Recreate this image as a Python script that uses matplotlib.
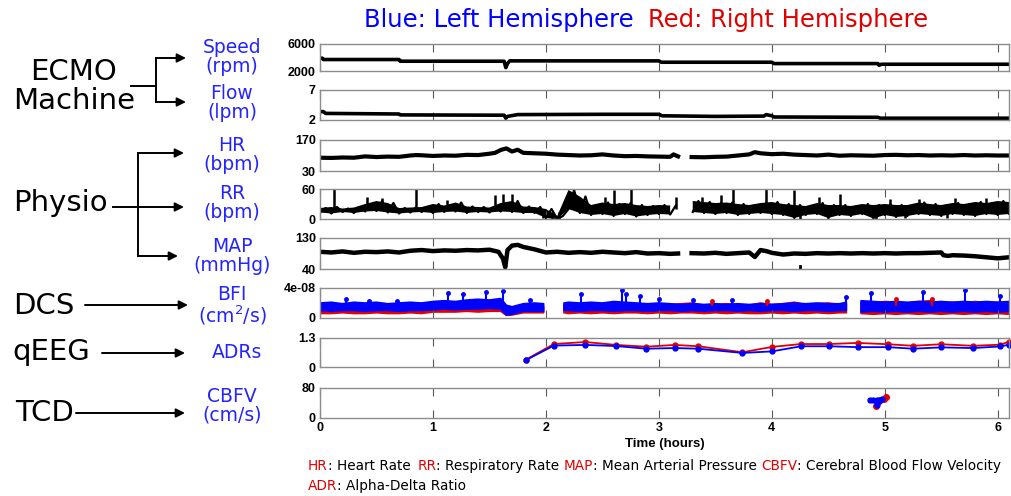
import numpy as np
import matplotlib
matplotlib.use('Agg')
import matplotlib.pyplot as plt

nan = np.nan
BLUE = '#0000ff'
RED = '#e00000'
LBLUE = '#2424ff'
TICKFONT = ['Liberation Sans', 'DejaVu Sans']

# ---------------- data ----------------
# ECMO pump speed (rpm), step-like
speed_t = [0, 0.02, 0.03, 0.70, 0.71, 1.63, 1.645, 1.66, 1.68, 3.0, 3.02, 4.0, 4.02, 4.94, 4.95, 4.97, 6.1]
speed_v = [3900, 3900, 3700, 3700, 3450, 3450, 2500, 3100, 3500, 3500, 3300, 3300, 3100, 3100, 2850, 3000, 3000]

# ECMO flow (lpm)
flow_t = [0, 0.03, 0.05, 0.70, 0.71, 1.63, 1.645, 1.66, 1.75, 2.5, 3.0, 3.03, 3.5, 3.93, 3.95, 4.0, 4.02, 4.94, 4.96, 6.1]
flow_v = [3.4, 3.4, 3.1, 3.0, 2.85, 2.8, 2.3, 2.6, 2.9, 2.95, 2.95, 2.7, 2.6, 2.65, 2.9, 2.7, 2.5, 2.45, 2.3, 2.3]

# heart rate (bpm)
hr_t = [0, 0.1, 0.2, 0.3, 0.4, 0.5, 0.6, 0.7, 0.8, 0.85, 0.9, 1.0, 1.1, 1.2, 1.3, 1.4, 1.5, 1.55,
        1.6, 1.65, 1.7, 1.75, 1.8, 1.9, 2.0, 2.1, 2.2, 2.3, 2.4, 2.5, 2.6, 2.7, 2.8, 2.9, 3.0, 3.1,
        3.13, 3.17, 3.23, 3.29, 3.4, 3.5, 3.6, 3.7, 3.8, 3.85, 3.9, 4.0, 4.1, 4.2, 4.3, 4.4, 4.5,
        4.6, 4.7, 4.8, 4.9, 5.0, 5.1, 5.2, 5.3, 5.4, 5.5, 5.6, 5.7, 5.8, 5.9, 6.0, 6.1]
hr_v = [90, 89, 91, 90, 96, 93, 95, 94, 100, 102, 101, 98, 100, 99, 103, 102, 108, 112,
        125, 132, 118, 126, 112, 110, 108, 104, 102, 100, 101, 105, 100, 97, 98, 96, 95, 94,
        105, 96, nan, 93, 92, 94, 95, 100, 105, 115, 110, 106, 108, 104, 102, 100, 104,
        99, 101, 100, 99, 102, 103, 101, 102, 100, 101, 100, 102, 100, 101, 100, 100]

# respiratory rate (bpm): low / high swing of the noisy trace every 0.1 h
rr_step = 0.1
rr_lo = [13, 11, 14, 12, 15, 16, 13, 11, 13, 14,
         12, 14, 15, 12, 14, 13, 15, 14, 12, 12,
         2, 0, 20, 12, 8, 10, 6, 10, 5, 8,
         10, 9, nan, 14, 12, 10, 12, 8, 10, 12,
         10, 8, 2, 8, 10, 2, 8, 6, 10, 1,
         8, 4, 6, 10, 8, 6, 10, 8, 6, 10,
         8, 10]
rr_hi = [22, 24, 21, 23, 30, 36, 32, 22, 23, 24,
         30, 27, 33, 25, 24, 23, 32, 36, 25, 24,
         20, 6, 58, 45, 28, 33, 30, 32, 28, 26,
         28, 27, nan, 36, 34, 32, 33, 30, 28, 32,
         34, 30, 28, 26, 32, 28, 28, 26, 30, 28,
         30, 28, 28, 33, 30, 28, 32, 30, 34, 32,
         36, 34]
rr_spk_t = [0.12, 0.42, 0.55, 0.85, 1.12, 1.55, 1.62, 1.70, 2.52, 2.6, 2.75, 3.15, 3.38, 3.55,
            3.66, 3.95, 4.2, 4.42, 4.6, 5.05, 5.3, 5.62, 5.9]
rr_spk_v = [60, 45, 42, 60, 38, 48, 50, 50, 45, 58, 60, 45, 45, 48,
            60, 60, 58, 45, 50, 40, 40, 42, 42]
rr_dip_t = [1.97, 2.05, 2.12, 4.25, 4.5, 4.92, 5.18, 5.55]
rr_dip_v = [2, 0, 1, 0, 2, 0, 3, 2]

# mean arterial pressure (mmHg)
map_t = [0, 0.1, 0.2, 0.3, 0.4, 0.5, 0.6, 0.7, 0.8, 0.9, 1.0, 1.1, 1.2, 1.3, 1.4, 1.5, 1.58,
         1.62, 1.64, 1.66, 1.7, 1.75, 1.8, 1.9, 2.0, 2.1, 2.2, 2.3, 2.4, 2.5, 2.6, 2.7, 2.8, 2.9,
         3.0, 3.1, 3.17, 3.23, 3.29, 3.4, 3.5, 3.6, 3.7, 3.8, 3.85, 3.9, 3.95, 4.0, 4.1, 4.2,
         4.3, 4.4, 4.5, 4.6, 4.7, 4.8, 4.9, 5.0, 5.1, 5.2, 5.3, 5.4, 5.5, 5.52, 5.56, 5.6, 5.7,
         5.8, 5.9, 6.0, 6.1]
map_v = [90, 88, 91, 87, 90, 89, 91, 88, 93, 95, 92, 94, 93, 95, 94, 96, 90,
         70, 45, 95, 108, 110, 104, 97, 88, 90, 87, 89, 87, 90, 88, 86, 89, 85,
         86, 84, 85, nan, 86, 85, 87, 84, 86, 88, 75, 95, 92, 87, 82, 85,
         84, 86, 85, 86, 85, 86, 85, 86, 85, 86, 86, 87, 88, 80, 78, 80, 79,
         77, 74, 71, 74]
map_out_t = [4.25, 4.25]
map_out_v = [44, 50]

# cerebral blood flow index (x1e-8 cm^2/s), envelopes of the noisy band
bfi_t = [0.0, 0.1, 0.2, 0.3, 0.4, 0.5, 0.6, 0.7, 0.8, 0.9, 1.0, 1.1, 1.2, 1.3, 1.4, 1.5, 1.6,
         1.65, 1.7, 1.8, 1.9, 1.98,
         2.07,
         2.16, 2.2, 2.3, 2.4, 2.5, 2.6, 2.7, 2.8, 2.9, 3.0, 3.1, 3.2, 3.3, 3.4, 3.5, 3.6, 3.7,
         3.8, 3.9, 4.0, 4.1, 4.2, 4.3, 4.4, 4.5, 4.6, 4.66,
         4.72,
         4.79, 4.9, 5.0, 5.1, 5.2, 5.3, 5.4, 5.5, 5.6, 5.7, 5.8, 5.9, 6.0, 6.1]
bfi_left_hi = [2.0, 2.1, 1.9, 2.1, 2.0, 2.1, 1.9, 2.0, 2.1, 2.0, 2.2, 2.3, 2.2, 2.4, 2.5, 2.4, 2.6,
               1.7, 1.5, 1.9, 2.0, 1.9,
               nan,
               2.0, 2.1, 2.0, 2.1, 2.0, 2.2, 2.1, 2.0, 1.9, 2.0, 1.9, 1.8, 1.9, 1.8, 1.9, 1.8, 1.9,
               1.8, 1.9, 1.8, 1.9, 2.0, 1.9, 2.0, 1.9, 1.9, 2.1,
               nan,
               2.3, 2.2, 2.1, 2.2, 2.1, 2.2, 2.1, 2.2, 2.1, 2.2, 2.1, 2.2, 2.1, 2.2]
bfi_left_lo = [1.0, 0.9, 1.0, 1.0, 0.9, 1.0, 1.0, 0.9, 1.0, 1.0, 1.1, 1.2, 1.1, 1.2, 1.2, 1.3, 1.2,
               0.4, 0.5, 0.9, 0.9, 0.9,
               nan,
               1.0, 1.0, 0.9, 1.0, 1.0, 0.9, 1.0, 1.0, 0.9, 1.0, 1.0, 0.9, 1.0, 0.9, 1.0, 1.0, 0.9,
               1.0, 0.9, 1.0, 1.0, 0.9, 1.0, 1.0, 0.9, 1.0, 1.0,
               nan,
               0.8, 0.9, 0.8, 0.9, 0.8, 0.9, 0.8, 0.9, 0.8, 0.9, 0.8, 0.9, 0.8, 0.9]
bfi_right_hi = [1.5, 1.5, 1.6, 1.5, 1.5, 1.6, 1.5, 1.6, 1.5, 1.6, 1.7, 1.7, 1.8, 1.8, 1.9, 1.8, 1.9,
                1.2, 1.1, 1.5, 1.5, 1.5,
                nan,
                1.8, 1.9, 1.8, 1.9, 1.9, 2.0, 1.9, 1.8, 1.8, 1.9, 1.8, 1.9, 2.0, 1.7, 1.8, 1.9, 1.8,
                1.7, 2.0, 1.8, 1.9, 2.1, 1.8, 1.9, 2.0, 1.8, 1.9,
                nan,
                2.1, 2.0, 2.2, 2.1, 2.0, 2.2, 2.3, 2.0, 2.1, 2.0, 2.2, 2.0, 2.1, 2.0]
bfi_right_lo = [0.6, 0.6, 0.7, 0.6, 0.6, 0.7, 0.6, 0.6, 0.7, 0.6, 0.8, 0.8, 0.8, 0.9, 0.8, 0.9, 0.9,
                0.35, 0.4, 0.7, 0.7, 0.7,
                nan,
                0.7, 0.6, 0.7, 0.6, 0.7, 0.6, 0.7, 0.7, 0.6, 0.7, 0.6, 0.7, 0.7, 0.6, 0.7, 0.6, 0.7,
                0.6, 0.6, 0.7, 0.6, 0.7, 0.6, 0.7, 0.6, 0.7, 0.7,
                nan,
                0.6, 0.5, 0.6, 0.5, 0.6, 0.5, 0.6, 0.5, 0.6, 0.5, 0.6, 0.5, 0.6, 0.5]
bfi_left_spk_t = [0.23, 0.43, 0.68, 1.13, 1.27, 1.47, 1.62, 1.86, 2.31, 2.67, 2.71, 2.83, 3.0,
                  3.3, 3.65, 4.66, 4.88, 5.34, 5.71, 6.02]
bfi_left_spk_v = [2.5, 2.3, 2.3, 3.3, 3.2, 3.5, 3.6, 2.4, 3.2, 3.7, 3.2, 3.0, 2.6,
                  2.4, 2.4, 2.8, 3.4, 3.5, 3.8, 3.0]
bfi_right_spk_t = [3.47, 3.96, 5.1, 5.42]
bfi_right_spk_v = [2.3, 2.3, 2.5, 2.5]

# alpha-delta ratio
adr_t = [1.82, 2.07, 2.35, 2.62, 2.89, 3.14, 3.35, 3.74, 4.0, 4.26, 4.51, 4.76, 5.03, 5.25, 5.5, 5.78, 6.02, 6.1]
adr_right = [0.32, 1.03, 1.12, 0.99, 0.91, 0.99, 0.93, 0.66, 0.9, 1.03, 1.03, 1.08, 1.02, 0.95, 1.02, 0.95, 1.0, 1.13]
adr_left = [0.30, 0.96, 0.99, 0.94, 0.82, 0.85, 0.82, 0.63, 0.70, 0.93, 0.93, 0.89, 0.89, 0.82, 0.88, 0.85, 0.92, 1.0]

# cerebral blood flow velocity (cm/s)
tcd_left_t = [4.87, 4.90, 4.93, 4.96, 4.98, 4.95, 4.93, 4.93]
tcd_left_v = [47, 48, 47, 48, 50, 47, 40, 34]
tcd_right_t = [4.92, 4.95, 4.99, 5.01]
tcd_right_v = [31, 45, 52, 56]

# panel y ranges and labels
ylims = [(2000, 6000), (2, 7), (30, 170), (0, 60), (40, 130), (0, 4e-8), (0, 1.3), (0, 80)]
ylabs = [('2000', '6000'), ('2', '7'), ('30', '170'), ('0', '60'), ('40', '130'),
         ('0', '4e-08'), ('0', '1.3'), ('0', '80')]

legend_abbr = ['HR', 'RR', 'MAP', 'CBFV']
legend_desc = ['Heart Rate', 'Respiratory Rate', 'Mean Arterial Pressure', 'Cerebral Blood Flow Velocity']

# ---------------- figure ----------------
W, H = 1012, 496
fig = plt.figure(figsize=(W / 100, H / 100), dpi=100)

# panel pixel boxes (top, bottom)
boxes = [(44, 71), (90, 120), (140, 171), (189, 219), (238, 269), (288, 318), (338, 367), (388, 418)]
x0, x1 = 320, 1009

axes = []
for i, (top, bot) in enumerate(boxes):
    ax = fig.add_axes([x0 / W, 1 - bot / H, (x1 - x0) / W, (bot - top) / H])
    ax.set_xlim(0, 6.1)
    ax.set_ylim(*ylims[i])
    ax.set_xticks(range(7))
    ax.set_yticks(ylims[i])
    ax.set_yticklabels(ylabs[i], fontfamily=TICKFONT, fontweight='bold', fontsize=9)
    ax.tick_params(axis='x', direction='in', top=True, length=6, width=0.8, color='0.35',
                   labelbottom=(i == 7))
    ax.tick_params(axis='y', length=0, pad=3)
    for sp in ax.spines.values():
        sp.set_color('0.55')
        sp.set_linewidth(1.0)
    axes.append(ax)

ax_sp, ax_fl, ax_hr, ax_rr, ax_map, ax_bfi, ax_adr, ax_tcd = axes

ax_sp.plot(speed_t, speed_v, color='k', lw=2.6)
ax_fl.plot(flow_t, flow_v, color='k', lw=2.6)
ax_hr.plot(hr_t, hr_v, color='k', lw=3)

# RR: band between the low and high readings, with a scribble on top
rr_lo_t = np.arange(len(rr_lo)) * rr_step
ax_rr.fill_between(rr_lo_t, rr_lo, rr_hi, color='k', lw=0)
rr_zz_t = np.column_stack([rr_lo_t, rr_lo_t + rr_step / 2]).ravel()
rr_zz_v = np.column_stack([rr_lo, rr_hi]).ravel()
ax_rr.plot(rr_zz_t, rr_zz_v, color='k', lw=1.6)
ax_rr.vlines(rr_spk_t, 20, rr_spk_v, color='k', lw=1.8)
ax_rr.vlines(rr_dip_t, rr_dip_v, 14, color='k', lw=1.8)

ax_map.plot(map_t, map_v, color='k', lw=3.2)
ax_map.plot(map_out_t, map_out_v, color='k', lw=2)

sc = 1e-8
bt = np.array(bfi_t)
ax_bfi.fill_between(bt, np.array(bfi_right_lo) * sc, np.array(bfi_right_hi) * sc,
                    color=RED, lw=1.2)
ax_bfi.vlines(bfi_right_spk_t, 1.6e-8, np.array(bfi_right_spk_v) * sc, color=RED, lw=1.5)
ax_bfi.plot(bfi_right_spk_t, np.array(bfi_right_spk_v) * sc, '.', color=RED, ms=5)
ax_bfi.fill_between(bt, np.array(bfi_left_lo) * sc, np.array(bfi_left_hi) * sc,
                    color=BLUE, lw=1.2)
ax_bfi.vlines(bfi_left_spk_t, 1.8e-8, np.array(bfi_left_spk_v) * sc, color=BLUE, lw=1.5)
ax_bfi.plot(bfi_left_spk_t, np.array(bfi_left_spk_v) * sc, '.', color=BLUE, ms=5)

ax_adr.plot(adr_t, adr_right, '-o', color=RED, lw=1.3, ms=3.5, clip_on=False)
ax_adr.plot(adr_t, adr_left, '-o', color=BLUE, lw=1.3, ms=3.5, clip_on=False)

ax_tcd.plot(tcd_right_t, tcd_right_v, '-o', color=RED, lw=3, ms=4)
ax_tcd.plot(tcd_left_t, tcd_left_v, '-o', color=BLUE, lw=3, ms=3.5)

ax_tcd.set_xticklabels([str(k) for k in range(7)], fontfamily=TICKFONT, fontweight='bold', fontsize=9)
ax_tcd.tick_params(axis='x', pad=3)
ax_tcd.set_xlabel('Time (hours)', fontfamily=TICKFONT, fontweight='bold', fontsize=9.5, labelpad=3)

# ---------------- overlay for annotations (pixel coordinates) ----------------
ov = fig.add_axes([0, 0, 1, 1])
ov.set_xlim(0, W)
ov.set_ylim(H, 0)
ov.axis('off')
ov.patch.set_alpha(0)

ov.text(364, 20, 'Blue: Left Hemisphere', color=BLUE, fontsize=17.5, va='center', ha='left')
ov.text(648, 20, 'Red: Right Hemisphere', color=RED, fontsize=17.5, va='center', ha='left')

big = dict(fontsize=21, color='k', va='center', ha='center')
ov.text(74, 72, 'ECMO', **big)
ov.text(74, 101, 'Machine', **big)
ov.text(60, 203, 'Physio', **big)
ov.text(44, 306, 'DCS', **big)
ov.text(51, 352, 'qEEG', **big)
ov.text(45, 413, 'TCD', **big)

lab = dict(fontsize=13.5, color=LBLUE, va='center', ha='center', linespacing=0.95)
ov.text(232, 57, 'Speed\n(rpm)', **lab)
ov.text(232, 103, 'Flow\n(lpm)', **lab)
ov.text(232, 155, 'HR\n(bpm)', **lab)
ov.text(232, 203, 'RR\n(bpm)', **lab)
ov.text(232, 256, 'MAP\n(mmHg)', **lab)
ov.text(232, 306, 'BFI\n(cm$^2$/s)', **lab)
ov.text(237, 353, 'ADRs', **lab)
ov.text(232, 406, 'CBFV\n(cm/s)', **lab)

arr = dict(arrowstyle='-|>', color='k', lw=1.4, mutation_scale=13, shrinkA=0, shrinkB=0)


def arrow(xa, xb, y):
    ov.annotate('', xy=(xb, y), xytext=(xa, y), arrowprops=arr)


# ECMO tree
ov.plot([131, 156], [86, 86], color='k', lw=1.4)
ov.plot([156, 156], [58, 102], color='k', lw=1.4)
arrow(156, 186, 58)
arrow(156, 186, 102)
# Physio tree
ov.plot([113, 138], [207, 207], color='k', lw=1.4)
ov.plot([138, 138], [153, 256], color='k', lw=1.4)
arrow(138, 184, 153)
arrow(138, 184, 207)
arrow(138, 178, 256)
# single arrows
arrow(85, 188, 305)
arrow(102, 185, 353)
arrow(76, 185, 413)

# ---------------- bottom legend ----------------
fig.canvas.draw()
rend = fig.canvas.get_renderer()


def run(x, y, pieces):
    for s, c, gap in pieces:
        t = ov.text(x, y, s, color=c, fontsize=9.8, va='center', ha='left')
        x += t.get_window_extent(renderer=rend).width + gap


pieces = []
for k, (a, d) in enumerate(zip(legend_abbr, legend_desc)):
    pieces.append((a, RED, 0))
    pieces.append((': ' + d, 'k', 7 if k == 0 else 4))
run(308, 466, pieces)
run(308, 486, [('ADR', RED, 0), (': Alpha-Delta Ratio', 'k', 0)])

fig.savefig('out.png', dpi=100)
